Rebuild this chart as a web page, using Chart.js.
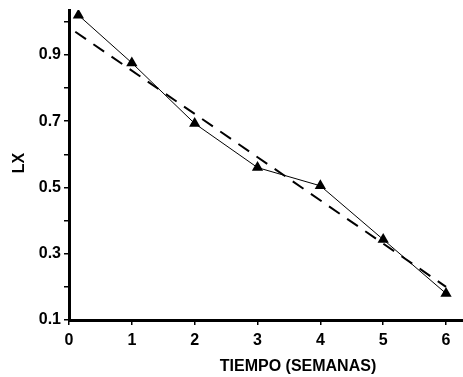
<!DOCTYPE html>
<html>
<head>
<meta charset="utf-8">
<script src="https://cdn.jsdelivr.net/npm/chart.js@4/dist/chart.umd.min.js"></script>
<style>
  html, body { margin: 0; padding: 0; background: #fff; }
  #wrap { width: 463px; height: 377px; }
</style>
</head>
<body>
<div id="wrap"><canvas id="chart" width="463" height="377"></canvas></div>
<script>
// observed values (weeks vs LX)
const weeks = [0.15, 1, 2, 3, 4, 5, 6];
const lx = [1.02, 0.876, 0.693, 0.56, 0.505, 0.343, 0.18];

// fitted dashed line, start and end
const fitX = [0.1, 6];
const fitY = [0.97, 0.2];

const xTicks = [0, 1, 2, 3, 4, 5, 6];
const yTicks = [0.1, 0.2, 0.3, 0.4, 0.5, 0.6, 0.7, 0.8, 0.9, 1.0];
const yLabels = ["0.1", "0.3", "0.5", "0.7", "0.9"];

const xTitle = "TIEMPO (SEMANAS)";
const yTitle = "LX";

const font = { family: "'Liberation Sans', Arial, sans-serif", size: 16, weight: "bold" };

// axis titles, placed where the original has them
const titles = {
  id: "titles",
  afterDraw(c) {
    const g = c.ctx;
    g.save();
    g.fillStyle = "#000";
    g.font = "bold 16px 'Liberation Sans', Arial, sans-serif";
    g.textAlign = "center";
    g.textBaseline = "middle";
    g.fillText(xTitle, 298, 367);
    g.translate(20, 163);
    g.rotate(-Math.PI / 2);
    g.fillText(yTitle, 0, 0);
    g.restore();
  }
};

new Chart(document.getElementById("chart"), {
  type: "scatter",
  data: {
    datasets: [
      {
        data: weeks.map((w, i) => ({ x: w, y: lx[i] })),
        showLine: true,
        borderColor: "#000",
        borderWidth: 1,
        backgroundColor: "#000",
        pointStyle: "triangle",
        pointRadius: 6.5,
        pointBorderWidth: 0,
        order: 1
      },
      {
        data: fitX.map((x, i) => ({ x: x, y: fitY[i] })),
        showLine: true,
        borderColor: "#000",
        borderWidth: 2,
        borderDash: [13, 9],
        pointRadius: 0,
        order: 2
      }
    ]
  },
  options: {
    responsive: false,
    animation: false,
    layout: { autoPadding: false, padding: { top: 10, right: 0, left: 0, bottom: 0 } },
    plugins: { legend: { display: false }, tooltip: { enabled: false } },
    scales: {
      x: {
        type: "linear",
        min: 0,
        max: 6.27,
        afterBuildTicks: s => { s.ticks = xTicks.map(v => ({ value: v })); },
        afterFit: s => { s.height = 57; s.paddingLeft = 0; s.paddingRight = 0; },
        border: { display: true, width: 3, color: "#000" },
        grid: { drawOnChartArea: false, drawTicks: true, tickLength: 5, color: "#000", lineWidth: 1.5 },
        ticks: { color: "#000", font: font, padding: 6, maxRotation: 0 }
      },
      y: {
        type: "linear",
        min: 0.1,
        max: 1.0356,
        afterBuildTicks: s => { s.ticks = yTicks.map(v => ({ value: v })); },
        afterFit: s => { s.width = 69; s.paddingTop = 0; s.paddingBottom = 0; },
        border: { display: true, width: 3, color: "#000" },
        grid: { drawOnChartArea: false, drawTicks: true, tickLength: 5, color: "#000", lineWidth: 1.5 },
        ticks: {
          color: "#000",
          font: font,
          padding: 3,
          callback: v => {
            const t = v.toFixed(1);
            return yLabels.includes(t) ? t : "";
          }
        }
      }
    }
  },
  plugins: [titles]
});
</script>
</body>
</html>
